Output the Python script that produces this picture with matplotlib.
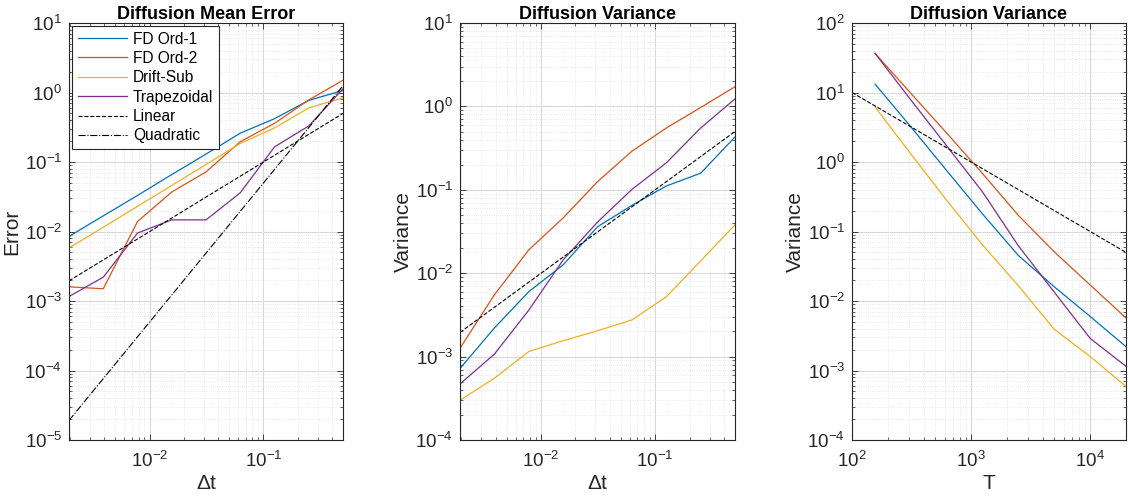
import matplotlib
matplotlib.use("Agg")
import matplotlib.pyplot as plt
from matplotlib.ticker import LogLocator, LogFormatterMathtext, NullFormatter

plt.rcParams['font.family'] = ['Liberation Sans', 'DejaVu Sans']
plt.rcParams['mathtext.fontset'] = 'custom'
plt.rcParams['mathtext.rm'] = 'Liberation Sans'
plt.rcParams['mathtext.it'] = 'Liberation Sans'
plt.rcParams['mathtext.bf'] = 'Liberation Sans:bold'

# ---------------- data ----------------
dt = [2**-9, 2**-8, 2**-7, 2**-6, 2**-5, 2**-4, 2**-3, 2**-2, 2**-1]

mean_fd1 = [0.0085, 0.0168, 0.033, 0.066, 0.13, 0.26, 0.42, 0.77, 1.07]
mean_fd2 = [0.0016, 0.0015, 0.0139, 0.037, 0.072, 0.196, 0.36, 0.78, 1.5]
mean_drift = [0.0058, 0.0115, 0.023, 0.046, 0.092, 0.185, 0.31, 0.60, 0.84]
mean_trap = [0.00116, 0.0022, 0.0095, 0.0147, 0.0147, 0.036, 0.165, 0.33, 1.13]
mean_linear = [0.00195, 0.0039, 0.0078, 0.0156, 0.03125, 0.0625, 0.125, 0.25, 0.5]
mean_quad = [1.91e-5, 7.63e-5, 3.05e-4, 1.22e-3, 4.88e-3, 1.95e-2, 7.81e-2, 0.3125, 1.25]

var_fd1 = [0.00072, 0.0022, 0.006, 0.0126, 0.036, 0.065, 0.111, 0.158, 0.43]
var_fd2 = [0.00126, 0.0055, 0.019, 0.046, 0.125, 0.29, 0.55, 0.97, 1.72]
var_drift = [0.00030, 0.00055, 0.00115, 0.00155, 0.00204, 0.00275, 0.0052, 0.014, 0.038]
var_trap = [0.00047, 0.00107, 0.0036, 0.0144, 0.041, 0.101, 0.21, 0.55, 1.23]
var_linear = [0.00195, 0.0039, 0.0078, 0.0156, 0.03125, 0.0625, 0.125, 0.25, 0.5]

T = [156.25, 312.5, 625, 1250, 2500, 5000, 10000, 20000]
tvar_fd1 = [13.2, 3.2, 0.75, 0.178, 0.045, 0.016, 0.006, 0.0022]
tvar_fd2 = [36.5, 9.7, 2.6, 0.68, 0.17, 0.051, 0.017, 0.0057]
tvar_drift = [6.2, 1.3, 0.28, 0.064, 0.0165, 0.0039, 0.00159, 0.00059]
tvar_trap = [36.5, 7.8, 1.7, 0.37, 0.062, 0.0134, 0.0029, 0.00115]
T_lin = [100, 20000]
tvar_linear = [10, 0.05]

labels = ['FD Ord-1', 'FD Ord-2', 'Drift-Sub', 'Trapezoidal', 'Linear', 'Quadratic']
colors = ['#0072BD', '#D95319', '#EDB120', '#7E2F8E']

# ---------------- figure ----------------
W, H = 1128, 497
fig = plt.figure(figsize=(W / 100, H / 100), dpi=100)

def px_axes(x0, x1, y0, y1):
    return fig.add_axes([x0 / W, 1 - y1 / H, (x1 - x0) / W, (y1 - y0) / H])

ax1 = px_axes(69, 343, 23, 440)
ax2 = px_axes(460, 735, 23, 440)
ax3 = px_axes(852, 1126, 23, 440)

edge = '#262626'
lw = 0.9

def style(ax):
    ax.set_xscale('log')
    ax.set_yscale('log')
    for s in ax.spines.values():
        s.set_color(edge)
        s.set_linewidth(0.8)
    ax.tick_params(which='both', direction='in', top=True, right=True, color=edge,
                   labelcolor=edge)
    ax.tick_params(which='major', length=4, labelsize=13.5, width=0.6)
    ax.tick_params(axis='x', which='major', pad=8)
    ax.tick_params(axis='y', which='major', pad=5)
    ax.tick_params(which='minor', length=2, width=0.5)
    ax.xaxis.set_major_locator(LogLocator(base=10, numticks=20))
    ax.yaxis.set_major_locator(LogLocator(base=10, numticks=20))
    ax.xaxis.set_minor_locator(LogLocator(base=10, subs=range(2, 10), numticks=20))
    ax.yaxis.set_minor_locator(LogLocator(base=10, subs=range(2, 10), numticks=20))
    ax.xaxis.set_major_formatter(LogFormatterMathtext())
    ax.yaxis.set_major_formatter(LogFormatterMathtext())
    ax.xaxis.set_minor_formatter(NullFormatter())
    ax.yaxis.set_minor_formatter(NullFormatter())
    ax.grid(True, which='major', color='#d9d9d9', linewidth=0.8, linestyle='-')
    ax.grid(True, which='minor', color='#e3e3e3', linewidth=0.6, linestyle=':')
    ax.set_axisbelow(True)

def labels_for(ax, title, xl, yl):
    ax.set_title(title, fontsize=13, fontweight='bold', pad=3)
    ax.set_xlabel(xl, fontsize=15, color=edge, labelpad=2)
    ax.set_ylabel(yl, fontsize=15, color=edge, labelpad=2)

# Panel 1
for y, c, l in zip([mean_fd1, mean_fd2, mean_drift, mean_trap], colors, labels[:4]):
    ax1.plot(dt, y, color=c, lw=lw, label=l)
ax1.plot(dt, mean_linear, 'k--', lw=0.8, label=labels[4])
ax1.plot(dt, mean_quad, 'k-.', lw=0.8, label=labels[5])
style(ax1)
ax1.set_xlim(2**-9, 2**-1)
ax1.set_ylim(1e-5, 1e1)
labels_for(ax1, 'Diffusion Mean Error', 'Δt', 'Error')
leg = ax1.legend(loc='upper left', fontsize=11.2, frameon=True, fancybox=False,
                 edgecolor=edge, framealpha=1, borderaxespad=0.2,
                 handlelength=3.2, handletextpad=0.35, labelspacing=0.28, borderpad=0.35)
leg.get_frame().set_linewidth(0.8)

# Panel 2
for y, c in zip([var_fd1, var_fd2, var_drift, var_trap], colors):
    ax2.plot(dt, y, color=c, lw=lw)
ax2.plot(dt, var_linear, 'k--', lw=0.8)
style(ax2)
ax2.set_xlim(2**-9, 2**-1)
ax2.set_ylim(1e-4, 1e1)
labels_for(ax2, 'Diffusion Variance', 'Δt', 'Variance')

# Panel 3
for y, c in zip([tvar_fd1, tvar_fd2, tvar_drift, tvar_trap], colors):
    ax3.plot(T, y, color=c, lw=lw)
ax3.plot(T_lin, tvar_linear, 'k--', lw=0.8)
style(ax3)
ax3.set_xlim(100, 20000)
ax3.set_ylim(1e-4, 1e2)
labels_for(ax3, 'Diffusion Variance', 'T', 'Variance')

fig.savefig('out.png', dpi=100)
